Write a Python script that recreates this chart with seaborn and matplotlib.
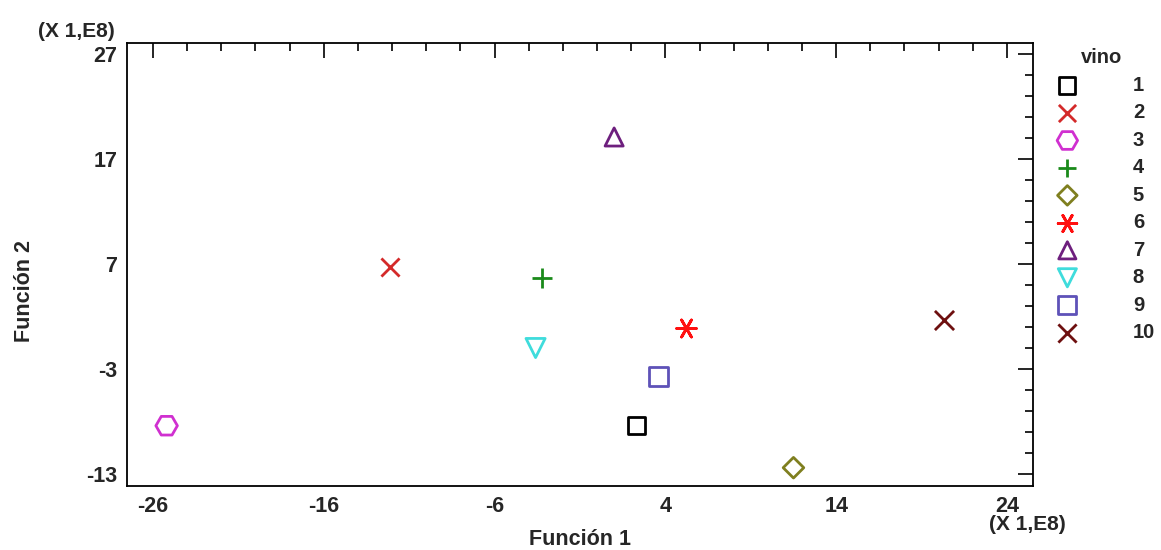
import seaborn as sns
import matplotlib.pyplot as plt
from matplotlib.ticker import FixedLocator

# discriminant scores, in units of 1E8
vino = ['1', '2', '3', '4', '5', '6', '7', '8', '9', '10']
funcion1 = [2.3, -12.1, -25.2, -3.2, 11.5, 5.2, 1.0, -3.6, 3.6, 20.3]
funcion2 = [-8.4, 6.7, -8.4, 5.7, -12.4, 0.9, 19.1, -1.0, -3.7, 1.7]

colores = ['#000000', '#d42a2a', '#d030d0', '#1a8a1a', '#7f7f1f',
           '#ff1010', '#6e1f7e', '#3fdcdc', '#5e52b8', '#6e1010']
marcadores = ['s', 'x', 'H', '+', 'D', (6, 2, 90), '^', 'v', 's', 'x']
tamanos = [150, 170, 240, 190, 110, 200, 170, 190, 190, 190]

sns.set_style('white')
plt.rcParams['font.family'] = ['Liberation Sans', 'DejaVu Sans']
plt.rcParams['font.weight'] = 'bold'
plt.rcParams['axes.unicode_minus'] = False

fig = plt.figure(figsize=(11.61, 5.5), dpi=100)
ax = fig.add_axes([0.1094, 0.1164, 0.7803, 0.8054])

for i in range(len(vino)):
    sns.scatterplot(x=[funcion1[i]], y=[funcion2[i]], marker=marcadores[i],
                    color=colores[i], s=tamanos[i], linewidth=2.0, ax=ax,
                    label=vino[i], legend=False)
    pts = ax.collections[-1]
    if marcadores[i] not in ('x', '+') and not isinstance(marcadores[i], tuple):
        pts.set_facecolor('none')
        pts.set_edgecolor(colores[i])
        pts.set_linewidth(2.0)

ax.set_xlim(-27.52, 25.52)
ax.set_ylim(-14.14, 28.05)
ax.set_xticks([-26, -16, -6, 4, 14, 24])
ax.set_yticks([-13, -3, 7, 17, 27])
ax.xaxis.set_minor_locator(FixedLocator(list(range(-26, 26, 2))))
ax.yaxis.set_minor_locator(FixedLocator(list(range(-13, 28, 2))))
ax.tick_params(which='both', direction='in', top=True, right=True, width=1.2, color='black')
ax.tick_params(which='major', length=11, labelsize=15.5, pad=7)
ax.tick_params(which='minor', length=6)
for lab in ax.get_xticklabels() + ax.get_yticklabels():
    lab.set_fontweight('bold')
for sp in ax.spines.values():
    sp.set_color('black')
    sp.set_linewidth(1.3)

ax.set_xlabel('Función 1', fontsize=15.5, fontweight='bold')
ax.set_ylabel('Función 2', fontsize=15.5, fontweight='bold')
ax.xaxis.set_label_coords(0.5, -0.097)
ax.yaxis.set_label_coords(-0.102, 0.44)

fig.text(0.066, 0.942, '(X 1,E8)', fontsize=15, fontweight='bold', ha='center', va='center')
fig.text(0.885, 0.047, '(X 1,E8)', fontsize=15, fontweight='bold', ha='center', va='center')

leg = ax.legend(title='vino', loc='upper left', bbox_to_anchor=(0.902, 0.912),
                bbox_transform=fig.transFigure, frameon=False, handletextpad=2.25,
                labelspacing=0.42, fontsize=14.5, title_fontsize=14.5,
                markerscale=0.95, borderaxespad=0, borderpad=0)
leg.get_title().set_fontweight('bold')
for t in leg.get_texts():
    t.set_fontweight('bold')

fig.savefig('out.png', dpi=100)
